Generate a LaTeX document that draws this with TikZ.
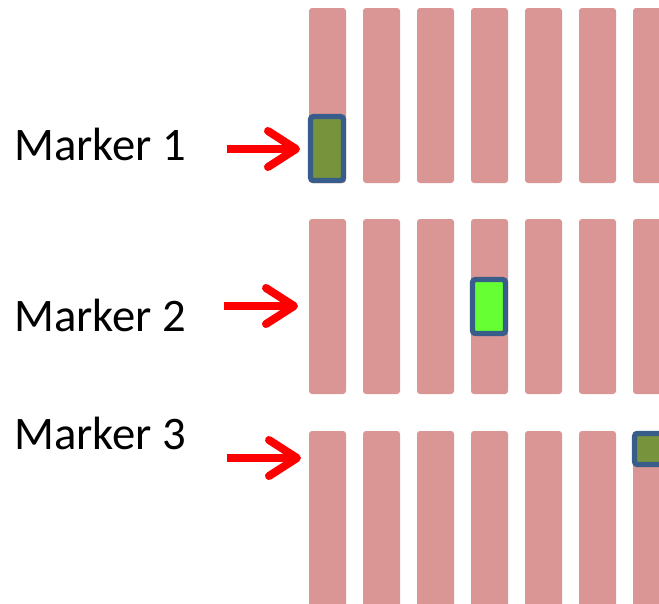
\documentclass[tikz,border=0pt]{standalone}
\usepackage{fontspec}
\setmainfont{Carlito}
\usepackage{tikz}
\usetikzlibrary{arrows.meta}

\definecolor{barpink}{RGB}{218,150,148}
\definecolor{markline}{RGB}{56,93,138}
\definecolor{markolive}{RGB}{119,147,60}
\definecolor{markgreen}{RGB}{102,255,51}

\begin{document}
\begin{tikzpicture}[x=0.75pt,y=0.75pt,yscale=-1,xscale=1,
  bar/.style={fill=barpink,rounded corners=2.25pt},
  markbox/.style={draw=markline,line width=4pt,rounded corners=2.25pt},
  pointer/.style={draw=red,line width=6pt,-{Straight Barb[length=21pt,width=27pt,round]}},
  label/.style={anchor=base west,inner sep=0pt,font=\fontsize{35}{42}\selectfont}]
\useasboundingbox (0,0) rectangle (659,603);
\clip (0,0) rectangle (659,603);

%Shape: Rectangle [row 1]
\fill[bar] (309,8) rectangle (346,183);
\fill[bar] (363,8) rectangle (400,183);
\fill[bar] (417,8) rectangle (454,183);
\fill[bar] (471,8) rectangle (508,183);
\fill[bar] (525,8) rectangle (562,183);
\fill[bar] (579,8) rectangle (616,183);
\fill[bar] (633,8) rectangle (670,183);

%Shape: Rectangle [row 2]
\fill[bar] (309,219) rectangle (346,394);
\fill[bar] (363,219) rectangle (400,394);
\fill[bar] (417,219) rectangle (454,394);
\fill[bar] (471,219) rectangle (508,394);
\fill[bar] (525,219) rectangle (562,394);
\fill[bar] (579,219) rectangle (616,394);
\fill[bar] (633,219) rectangle (670,394);

%Shape: Rectangle [row 3]
\fill[bar] (309,431) rectangle (346,615);
\fill[bar] (363,431) rectangle (400,615);
\fill[bar] (417,431) rectangle (454,615);
\fill[bar] (471,431) rectangle (508,615);
\fill[bar] (525,431) rectangle (562,615);
\fill[bar] (579,431) rectangle (616,615);
\fill[bar] (633,431) rectangle (670,615);

%Shape: Rectangle [markers]
\draw[markbox,fill=markolive] (310.5,116.5) rectangle (343.5,180.5);
\draw[markbox,fill=markgreen] (472.5,279.5) rectangle (505.5,333.5);
\draw[markbox,fill=markolive] (634.5,433.5) rectangle (672,464.5);

%Text
\node[label] (lab1) at (14,160) {Marker 1};
\node[label] (lab2) at (14,331) {Marker 2};
\node[label] (lab3) at (14,449) {Marker 3};

%Straight Lines [arrows]
\coordinate (s1) at (227,149);
\coordinate (t1) at (300,149);
\coordinate (s2) at (224,306);
\coordinate (t2) at (298,306);
\coordinate (s3) at (227,458);
\coordinate (t3) at (301,458);
\draw[pointer] (s1) -- (t1);
\draw[pointer] (s2) -- (t2);
\draw[pointer] (s3) -- (t3);

\end{tikzpicture}
\end{document}
